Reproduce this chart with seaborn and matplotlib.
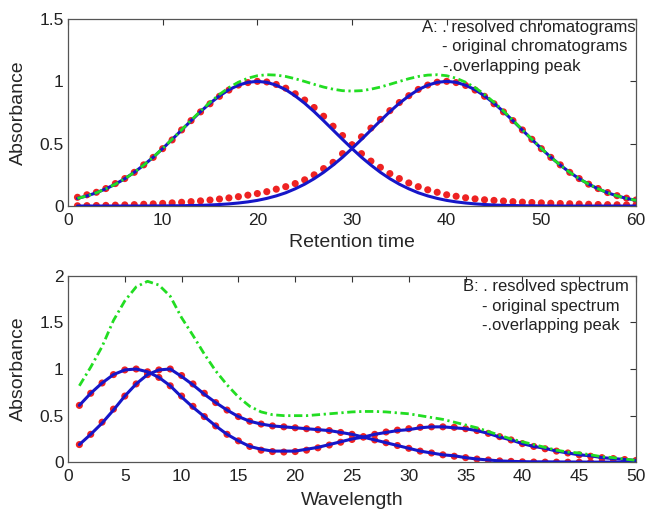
import numpy as np
import pandas as pd
import matplotlib
matplotlib.use("Agg")
import matplotlib.pyplot as plt
import seaborn as sns

# Panel A: chromatograms (retention time 1..60)
retention = np.arange(1, 61)
orig_chrom1 = [0.061, 0.081, 0.106, 0.138, 0.175, 0.219, 0.270, 0.328, 0.391, 0.461,
               0.534, 0.609, 0.684, 0.757, 0.824, 0.883, 0.933, 0.969, 0.992, 1.000,
               0.992, 0.969, 0.933, 0.883, 0.824, 0.757, 0.684, 0.609, 0.534, 0.461,
               0.391, 0.328, 0.270, 0.219, 0.175, 0.138, 0.106, 0.081, 0.061, 0.045,
               0.033, 0.024, 0.017, 0.012, 0.008, 0.005, 0.004, 0.002, 0.002, 0.001,
               0.001, 0, 0, 0, 0, 0, 0, 0, 0, 0]
orig_chrom2 = [0, 0, 0, 0, 0, 0, 0, 0, 0.001, 0.001,
               0.002, 0.002, 0.004, 0.005, 0.008, 0.012, 0.017, 0.024, 0.033, 0.045,
               0.061, 0.081, 0.106, 0.138, 0.175, 0.219, 0.270, 0.328, 0.391, 0.461,
               0.534, 0.609, 0.684, 0.757, 0.824, 0.883, 0.933, 0.969, 0.992, 1.000,
               0.992, 0.969, 0.933, 0.883, 0.824, 0.757, 0.684, 0.609, 0.534, 0.461,
               0.391, 0.328, 0.270, 0.219, 0.175, 0.138, 0.106, 0.081, 0.061, 0.045]
res_chrom1 = [0.07, 0.09, 0.11, 0.14, 0.18, 0.22, 0.27, 0.33, 0.39, 0.46,
              0.53, 0.61, 0.685, 0.755, 0.82, 0.88, 0.93, 0.97, 0.99, 1.0,
              0.995, 0.975, 0.945, 0.90, 0.85, 0.79, 0.72, 0.64, 0.565, 0.49,
              0.42, 0.36, 0.31, 0.26, 0.22, 0.185, 0.155, 0.13, 0.11, 0.09,
              0.078, 0.066, 0.057, 0.05, 0.045, 0.04, 0.035, 0.031, 0.028, 0.025,
              0.022, 0.02, 0.018, 0.016, 0.014, 0.012, 0.011, 0.01, 0.009, 0.008]
res_chrom2 = [0.002, 0.003, 0.004, 0.005, 0.007, 0.009, 0.011, 0.014, 0.017, 0.021,
              0.025, 0.03, 0.035, 0.041, 0.048, 0.056, 0.065, 0.075, 0.087, 0.10,
              0.115, 0.135, 0.155, 0.18, 0.21, 0.25, 0.30, 0.35, 0.42, 0.49,
              0.555, 0.625, 0.695, 0.765, 0.83, 0.885, 0.935, 0.97, 0.993, 1.0,
              0.99, 0.967, 0.93, 0.88, 0.82, 0.755, 0.685, 0.61, 0.535, 0.46,
              0.39, 0.33, 0.27, 0.22, 0.175, 0.14, 0.108, 0.083, 0.063, 0.048]
mix_chrom = [0.061, 0.081, 0.106, 0.138, 0.175, 0.219, 0.270, 0.328, 0.392, 0.462,
             0.536, 0.611, 0.688, 0.762, 0.832, 0.895, 0.950, 0.993, 1.025, 1.045,
             1.053, 1.050, 1.039, 1.021, 0.999, 0.976, 0.954, 0.937, 0.925, 0.922,
             0.925, 0.937, 0.954, 0.976, 0.999, 1.021, 1.039, 1.050, 1.053, 1.045,
             1.025, 0.993, 0.950, 0.895, 0.832, 0.762, 0.688, 0.611, 0.536, 0.462,
             0.392, 0.328, 0.270, 0.219, 0.175, 0.138, 0.106, 0.081, 0.061, 0.045]

# Panel B: spectra (wavelength 1..50)
wavelength = np.arange(1, 51)
orig_spec1 = [0.61, 0.74, 0.85, 0.94, 0.99, 1.00, 0.97, 0.91, 0.82, 0.70,
              0.59, 0.49, 0.39, 0.30, 0.23, 0.17, 0.14, 0.12, 0.12, 0.12,
              0.14, 0.16, 0.19, 0.22, 0.25, 0.27, 0.30, 0.32, 0.34, 0.35,
              0.37, 0.38, 0.38, 0.37, 0.36, 0.34, 0.31, 0.27, 0.24, 0.20,
              0.17, 0.15, 0.12, 0.10, 0.08, 0.07, 0.05, 0.04, 0.03, 0.02]
orig_spec2 = [0.19, 0.30, 0.42, 0.56, 0.71, 0.84, 0.94, 0.99, 1.00, 0.92,
              0.83, 0.73, 0.64, 0.56, 0.49, 0.44, 0.41, 0.39, 0.38, 0.37,
              0.36, 0.35, 0.34, 0.32, 0.30, 0.27, 0.24, 0.21, 0.18, 0.15,
              0.12, 0.10, 0.08, 0.07, 0.05, 0.035, 0.025, 0.015, 0.01, 0.007,
              0.005, 0.005, 0.004, 0.003, 0.003, 0.002, 0.002, 0.002, 0.001, 0.001]
res_spec1 = [0.61, 0.74, 0.85, 0.94, 0.99, 1.00, 0.97, 0.91, 0.82, 0.71,
             0.60, 0.49, 0.39, 0.30, 0.23, 0.17, 0.13, 0.115, 0.11, 0.115,
             0.13, 0.155, 0.185, 0.215, 0.245, 0.275, 0.30, 0.325, 0.345, 0.36,
             0.375, 0.38, 0.38, 0.375, 0.36, 0.34, 0.31, 0.275, 0.24, 0.20,
             0.17, 0.145, 0.12, 0.10, 0.08, 0.065, 0.05, 0.04, 0.03, 0.02]
res_spec2 = [0.19, 0.30, 0.43, 0.57, 0.71, 0.84, 0.94, 0.99, 1.00, 0.93,
             0.84, 0.74, 0.64, 0.56, 0.49, 0.44, 0.41, 0.39, 0.38, 0.37,
             0.36, 0.35, 0.34, 0.32, 0.30, 0.27, 0.24, 0.21, 0.18, 0.15,
             0.12, 0.10, 0.08, 0.065, 0.05, 0.035, 0.025, 0.015, 0.01, 0.005,
             0.003, 0.002, 0.002, 0.001, 0.001, 0.001, 0, 0, 0, 0]
mix_spec = [0.82, 1.02, 1.24, 1.52, 1.73, 1.88, 1.94, 1.90, 1.78, 1.55,
            1.36, 1.16, 0.98, 0.83, 0.70, 0.60, 0.54, 0.51, 0.50, 0.50,
            0.50, 0.51, 0.52, 0.53, 0.54, 0.545, 0.545, 0.54, 0.53, 0.52,
            0.50, 0.48, 0.46, 0.43, 0.40, 0.37, 0.33, 0.29, 0.25, 0.22,
            0.19, 0.16, 0.13, 0.11, 0.10, 0.08, 0.06, 0.05, 0.035, 0.02]

top_xticks = [0, 10, 20, 30, 40, 50, 60]
top_yticks = [0, 0.5, 1, 1.5]
top_yticklabels = ["0", "0.5", "1", "1.5"]
bot_xticks = [0, 5, 10, 15, 20, 25, 30, 35, 40, 45, 50]
bot_yticks = [0, 0.5, 1, 1.5, 2]
bot_yticklabels = ["0", "0.5", "1", "1.5", "2"]

sns.set_style("white")
plt.rcParams["font.family"] = ["Liberation Sans", "DejaVu Sans"]

BLUE = "#1616c8"
GREEN = "#22dd22"
RED = "#ee2222"
DASHDOT = (0, (3, 1.3, 0.8, 1.3))

fig = plt.figure(figsize=(6.45, 5.11), dpi=100)
ax1 = fig.add_axes([68 / 645, 1 - 206 / 511, 568 / 645, 187 / 511])
ax2 = fig.add_axes([68 / 645, 1 - 462.3 / 511, 568 / 645, 186.6 / 511])


def draw_panel(ax, x, res1, res2, orig1, orig2, mix):
    df = pd.DataFrame({"x": x, "res1": res1, "res2": res2,
                       "orig1": orig1, "orig2": orig2, "mix": mix})
    for col in ["res1", "res2"]:
        sns.scatterplot(data=df, x="x", y=col, ax=ax, color=RED, s=26,
                        edgecolor="none", zorder=2, legend=False)
    for col in ["orig1", "orig2"]:
        sns.lineplot(data=df, x="x", y=col, ax=ax, color=BLUE, lw=2.2,
                     zorder=3, legend=False)
    sns.lineplot(data=df, x="x", y="mix", ax=ax, color=GREEN, lw=2.0,
                 linestyle=DASHDOT, zorder=4, legend=False)


draw_panel(ax1, retention, res_chrom1, res_chrom2, orig_chrom1, orig_chrom2, mix_chrom)
draw_panel(ax2, wavelength, res_spec1, res_spec2, orig_spec1, orig_spec2, mix_spec)

ax1.set_xlim(0, 60)
ax1.set_ylim(0, 1.5)
ax1.set_xticks(top_xticks)
ax1.set_yticks(top_yticks)
ax1.set_yticklabels(top_yticklabels)
ax1.set_xlabel("Retention time", fontsize=14)
ax1.xaxis.set_label_coords(0.5, -0.196)
ax1.xaxis.label.set_va("center")

ax2.set_xlim(0, 50)
ax2.set_ylim(0, 2)
ax2.set_xticks(bot_xticks)
ax2.set_yticks(bot_yticks)
ax2.set_yticklabels(bot_yticklabels)
ax2.set_xlabel("Wavelength", fontsize=14)
ax2.xaxis.set_label_coords(0.5, -0.203)
ax2.xaxis.label.set_va("center")

for ax in (ax1, ax2):
    ax.set_ylabel("Absorbance", fontsize=14)
    ax.yaxis.set_label_coords(-0.088, 0.5)
    ax.yaxis.label.set_va("center")
    ax.tick_params(direction="in", top=True, right=True, length=4, width=0.8,
                   labelsize=12.5, colors="#333333", labelcolor="#222222")
    ax.tick_params(axis="x", pad=5)
    ax.tick_params(axis="y", pad=3)
    for sp in ax.spines.values():
        sp.set_color("#555555")
        sp.set_linewidth(0.9)

fs = 12
fig.text(421.7 / 645, 1 - 27 / 511, "A: . resolved chromatograms", fontsize=fs, va="center", color="#222222")
fig.text(441.7 / 645, 1 - 46.5 / 511, "- original chromatograms", fontsize=fs, va="center", color="#222222")
fig.text(442.7 / 645, 1 - 66 / 511, "-.overlapping peak", fontsize=fs, va="center", color="#222222")
fig.text(463.3 / 645, 1 - 286.7 / 511, "B: . resolved spectrum", fontsize=fs, va="center", color="#222222")
fig.text(481.7 / 645, 1 - 306 / 511, "- original spectrum", fontsize=fs, va="center", color="#222222")
fig.text(481.7 / 645, 1 - 325 / 511, "-.overlapping peak", fontsize=fs, va="center", color="#222222")

fig.savefig("out.png", dpi=100)
